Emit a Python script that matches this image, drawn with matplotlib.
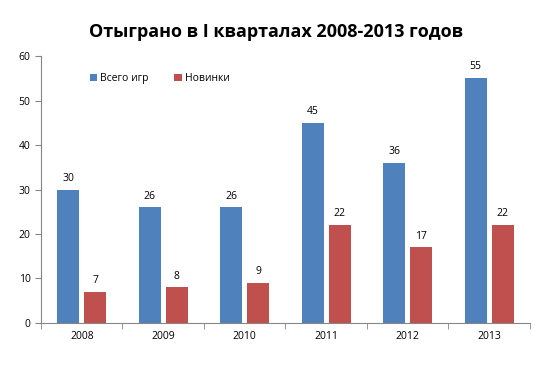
import numpy as np
import matplotlib.pyplot as plt

years = ['2008', '2009', '2010', '2011', '2012', '2013']
vsego = [30, 26, 26, 45, 36, 55]
novinki = [7, 8, 9, 22, 17, 22]

plt.rcParams['font.family'] = ['Open Sans', 'DejaVu Sans']

fig = plt.figure(figsize=(5.52, 3.67), dpi=100)
ax = fig.add_axes([0.0743, 0.1199, 0.8857, 0.7275])

x = np.arange(len(years))
w = 0.27
b1 = ax.bar(x - 0.166, vsego, w, color='#4F81BD', label='Всего игр')
b2 = ax.bar(x + 0.166, novinki, w, color='#C0504D', label='Новинки')

for bars, vals in ((b1, vsego), (b2, novinki)):
    for r, v in zip(bars, vals):
        ax.text(r.get_x() + r.get_width() / 2, v + 1.3, str(v),
                ha='center', va='bottom', fontsize=7.5)

ax.set_xlim(-0.5, len(years) - 0.5)
ax.set_ylim(0, 60)
ax.set_yticks(range(0, 61, 10))
ax.set_xticks(x)
ax.set_xticklabels(years)
ax.set_xticks(np.arange(-0.5, len(years)), minor=True)
ax.tick_params(axis='x', which='major', length=0, labelsize=7.5, pad=6)
ax.tick_params(axis='x', which='minor', length=4, color='#868686', direction='out')
ax.tick_params(axis='y', length=4, color='#868686', labelsize=7.5, direction='out')

for s in ['top', 'right']:
    ax.spines[s].set_visible(False)
for s in ['left', 'bottom']:
    ax.spines[s].set_color('#868686')
    ax.spines[s].set_linewidth(0.8)

ax.legend(loc='upper left', bbox_to_anchor=(0.08, 0.97), ncol=2, frameon=False,
          fontsize=7.5, handlelength=0.7, handleheight=0.7, handletextpad=0.3,
          columnspacing=2.5)

fig.text(0.5, 0.912, 'Отыграно в I кварталах 2008-2013 годов', ha='center',
         va='center', fontsize=13, fontweight='bold')

fig.savefig('out.png', dpi=100)
